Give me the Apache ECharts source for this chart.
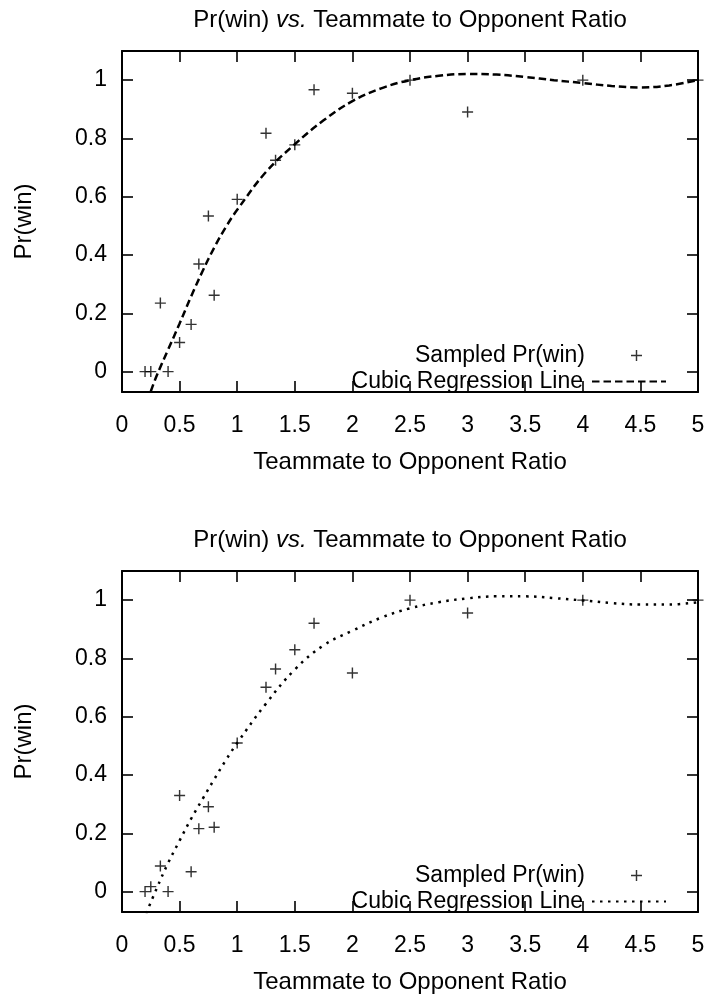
<!DOCTYPE html>
<html><head><meta charset="utf-8">
<script src="https://cdn.jsdelivr.net/npm/echarts@6/dist/echarts.min.js"></script>
<style>html,body{margin:0;padding:0;background:#fff}#c{width:709px;height:995px}</style>
</head><body><div id="c"></div>
<script>
// ---- data ----
const ratios = [0.2, 0.25, 0.333, 0.4, 0.5, 0.6, 0.667, 0.75, 0.8, 1, 1.25, 1.333, 1.5, 1.667, 2, 2.5, 3, 4, 5];
const winTop = [0, 0, 0.235, 0, 0.1, 0.162, 0.369, 0.534, 0.262, 0.591, 0.818, 0.725, 0.778, 0.967, 0.955, 1, 0.891, 1, 1];
const winBottom = [0, 0.017, 0.088, 0, 0.33, 0.068, 0.216, 0.291, 0.221, 0.51, 0.701, 0.764, 0.83, 0.921, 0.75, 1, 0.956, 1, 1];

const fitTopX = [0.25, 0.3, 0.4, 0.5, 0.6, 0.7, 0.8, 0.9, 1, 1.25, 1.5, 1.75, 2, 2.25, 2.5, 2.75, 3, 3.25, 3.5, 3.75, 4, 4.25, 4.5, 4.75, 5];
const fitTopY = [-0.068, -0.015, 0.075, 0.165, 0.258, 0.345, 0.425, 0.495, 0.555, 0.685, 0.78, 0.862, 0.928, 0.972, 1.0, 1.015, 1.021, 1.019, 1.011, 1.0, 0.99, 0.98, 0.975, 0.982, 1.0];
const fitBottomX = [0.21, 0.3, 0.4, 0.5, 0.6, 0.7, 0.8, 0.9, 1, 1.25, 1.5, 1.75, 2, 2.25, 2.5, 2.75, 3, 3.25, 3.5, 3.75, 4, 4.25, 4.5, 4.75, 5];
const fitBottomY = [-0.075, 0.01, 0.098, 0.175, 0.25, 0.318, 0.385, 0.45, 0.51, 0.645, 0.762, 0.845, 0.895, 0.94, 0.972, 0.993, 1.006, 1.013, 1.013, 1.007, 0.999, 0.99, 0.985, 0.985, 0.993];

const yTickValues = [0, 0.2, 0.4, 0.6, 0.8, 1];
const titleText = ['Pr(win) ', 'vs.', ' Teammate to Opponent Ratio'];
const xName = 'Teammate to Opponent Ratio';
const yName = 'Pr(win)';
const nameScatter = 'Sampled Pr(win)';
const nameFit = 'Cubic Regression Line';

// ---- styling ----
const FONT = "'Liberation Sans', Arial, sans-serif";
const plusPath = 'path://M0,4.35H10V5.65H0Z M4.35,0H5.65V10H4.35Z';
const grids = [
  {left: 122, top: 51, width: 576, height: 341},
  {left: 122, top: 571, width: 576, height: 341}
];
const axLine = {show: true, onZero: false, lineStyle: {color: '#000', width: 2}};
const tick = {show: true, inside: true, length: 11, lineStyle: {color: '#000', width: 1.6}};

function xAxes(gi) {
  return [
    {gridIndex: gi, type: 'value', position: 'bottom', min: 0, max: 5, interval: 0.5,
     axisLine: axLine, axisTick: tick, splitLine: {show: false},
     axisLabel: {color: '#000', fontSize: 23, fontFamily: FONT, margin: 22},
     name: xName, nameLocation: 'middle', nameGap: 58,
     nameTextStyle: {color: '#000', fontSize: 24, fontFamily: FONT}},
    {gridIndex: gi, type: 'value', position: 'top', min: 0, max: 5, interval: 0.5,
     axisLine: axLine, axisTick: tick, splitLine: {show: false}, axisLabel: {show: false}}
  ];
}
function yAxes(gi) {
  return [
    {gridIndex: gi, type: 'value', position: 'left', min: -0.07, max: 1.1,
     axisLine: axLine, axisTick: Object.assign({customValues: yTickValues}, tick), splitLine: {show: false},
     axisLabel: {customValues: yTickValues, color: '#000', fontSize: 23, fontFamily: FONT, margin: 15},
     name: yName, nameLocation: 'middle', nameGap: 86,
     nameTextStyle: {color: '#000', fontSize: 24, fontFamily: FONT}},
    {gridIndex: gi, type: 'value', position: 'right', min: -0.07, max: 1.1,
     axisLine: axLine, axisTick: Object.assign({customValues: yTickValues}, tick), splitLine: {show: false},
     axisLabel: {show: false}}
  ];
}
function title(top) {
  return {
    text: '{n|' + titleText[0] + '}{i|' + titleText[1] + '}{n|' + titleText[2] + '}',
    left: 410, top: top, textAlign: 'center', padding: 0,
    textStyle: {fontWeight: 'normal', rich: {
      n: {fontSize: 24, fontFamily: FONT, color: '#000', fontWeight: 'normal'},
      i: {fontSize: 24, fontFamily: FONT, color: '#000', fontWeight: 'normal', fontStyle: 'italic'}
    }}
  };
}
function legends(offset, suffix) {
  const ts = {fontSize: 23, fontFamily: FONT, color: '#000'};
  return [
    {data: [nameScatter + suffix], orient: 'horizontal', align: 'right', right: 67, top: 344 + offset,
     itemWidth: 11, itemHeight: 11, padding: 0, selectedMode: false,
     formatter: () => nameScatter, textStyle: Object.assign({padding: [0, 41, 0, 0]}, ts)},
    {data: [nameFit + suffix], orient: 'horizontal', align: 'right', right: 42, top: 370 + offset,
     itemWidth: 74, itemHeight: 11, padding: 0, selectedMode: false,
     itemStyle: {opacity: 0},
     formatter: () => nameFit, textStyle: Object.assign({padding: [0, 4, 0, 0]}, ts)}
  ];
}
function scatter(name, xi, yi, ys) {
  return {name: name, type: 'scatter', xAxisIndex: xi, yAxisIndex: yi,
    symbol: plusPath, symbolSize: 11, itemStyle: {color: '#000'},
    data: ratios.map((x, i) => [x, ys[i]]), z: 3};
}
function fit(name, xi, yi, xs, ys, dash) {
  return {name: name, type: 'line', xAxisIndex: xi, yAxisIndex: yi,
    symbol: 'none', showSymbol: false, smooth: 0.4, clip: true,
    lineStyle: {color: '#000', width: 2.5, type: dash, cap: 'butt'},
    itemStyle: {color: '#000'},
    data: xs.map((x, i) => [x, ys[i]]), z: 2};
}

const chart = echarts.init(document.getElementById('c'), null, {renderer: 'canvas'});
chart.setOption({
  animation: false,
  backgroundColor: '#fff',
  title: [title(8), title(528)],
  grid: grids.map(g => Object.assign({containLabel: false}, g)),
  xAxis: xAxes(0).concat(xAxes(1)),
  yAxis: yAxes(0).concat(yAxes(1)),
  legend: legends(0, '').concat(legends(520, '#2')),
  series: [
    scatter(nameScatter, 0, 0, winTop),
    fit(nameFit, 0, 0, fitTopX, fitTopY, [7.5, 4]),
    scatter(nameScatter + '#2', 2, 2, winBottom),
    fit(nameFit + '#2', 2, 2, fitBottomX, fitBottomY, [2.5, 5.5])
  ]
});
</script></body></html>
